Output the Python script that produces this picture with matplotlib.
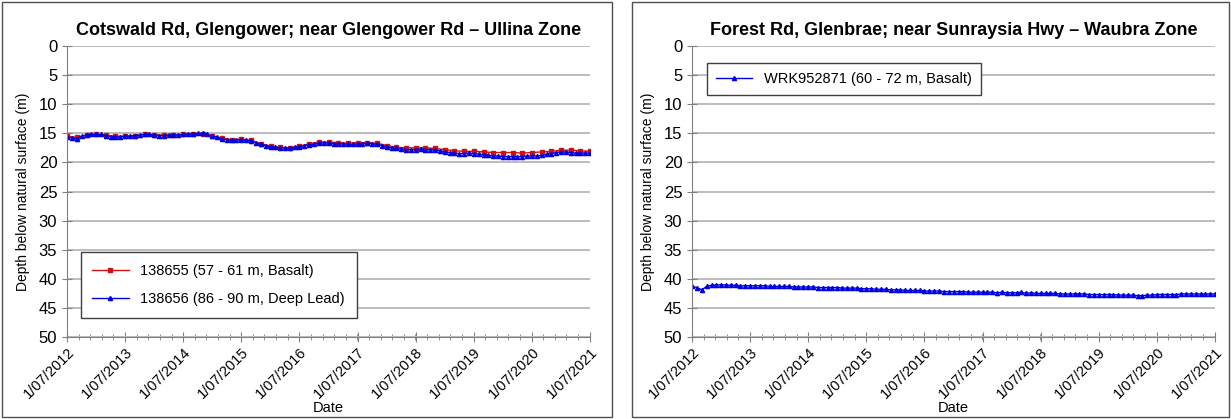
import pandas as pd
import matplotlib.pyplot as plt
import matplotlib.dates as mdates
from matplotlib.ticker import AutoMinorLocator, MultipleLocator
from matplotlib.patches import Rectangle

plt.rcParams['font.family'] = ['Liberation Sans', 'DejaVu Sans']

# Données (profondeur sous la surface, m) - mensuelles de 07/2012 à 07/2021
dates_mensuelles = pd.date_range('2012-07-01', periods=109, freq='MS')
dates_bimensuelles = pd.date_range('2012-07-01', periods=55, freq='2MS')

bore_138656 = [
    15.6, 15.8, 15.9, 15.5, 15.3, 15.2,
    15.2, 15.2, 15.4, 15.6, 15.6, 15.6, 15.5, 15.5, 15.4, 15.3, 15.2, 15.2,
    15.3, 15.4, 15.4, 15.3, 15.3, 15.3, 15.2, 15.1, 15.1, 15.0, 15.0, 15.2,
    15.5, 15.7, 15.9, 16.1, 16.2, 16.1, 16.1, 16.2, 16.3, 16.6, 16.9, 17.1,
    17.3, 17.4, 17.5, 17.5, 17.6, 17.4, 17.3, 17.1, 17.0, 16.9, 16.7, 16.6,
    16.7, 16.8, 16.8, 16.8, 16.9, 16.9, 16.8, 16.8, 16.7, 16.8, 16.9, 17.1,
    17.3, 17.5, 17.6, 17.7, 17.8, 17.8, 17.8, 17.7, 17.8, 17.8, 17.9, 18.0,
    18.2, 18.3, 18.4, 18.5, 18.5, 18.4, 18.5, 18.6, 18.7, 18.8, 18.9, 18.9,
    19.0, 19.0, 19.0, 19.0, 19.0, 18.9, 18.9, 18.9, 18.8, 18.6, 18.5, 18.3,
    18.2, 18.2, 18.3, 18.4, 18.4, 18.4, 18.4,
]

bore_138655 = [
    15.5, 15.7, 15.3,
    15.2, 15.3, 15.5, 15.5, 15.4, 15.2,
    15.3, 15.3, 15.3, 15.2, 15.1, 15.1,
    15.5, 15.8, 16.1, 16.0, 16.2, 16.8,
    17.2, 17.4, 17.5, 17.2, 16.8, 16.5,
    16.5, 16.6, 16.7, 16.6, 16.6, 16.7,
    17.1, 17.4, 17.5, 17.5, 17.5, 17.6,
    17.8, 18.0, 18.1, 18.1, 18.2, 18.3,
    18.3, 18.3, 18.4, 18.3, 18.2, 18.1,
    17.9, 17.9, 18.0, 18.1,
]

bore_wrk952871 = [
    41.3, 41.5, 41.9, 41.3, 41.1, 41.1,
    41.0, 41.1, 41.1, 41.1, 41.2, 41.2, 41.2, 41.2, 41.2, 41.2, 41.3, 41.3,
    41.3, 41.3, 41.3, 41.4, 41.4, 41.4, 41.4, 41.4, 41.5, 41.5, 41.5, 41.5,
    41.5, 41.6, 41.6, 41.6, 41.6, 41.7, 41.7, 41.7, 41.8, 41.8, 41.8, 41.9,
    41.9, 41.9, 42.0, 42.0, 42.0, 42.0, 42.1, 42.1, 42.1, 42.1, 42.2, 42.2,
    42.2, 42.2, 42.2, 42.3, 42.3, 42.3, 42.3, 42.3, 42.3, 42.4, 42.3, 42.4,
    42.4, 42.4, 42.3, 42.5, 42.4, 42.5, 42.5, 42.5, 42.5, 42.5, 42.6, 42.6,
    42.6, 42.6, 42.6, 42.6, 42.7, 42.7, 42.7, 42.7, 42.7, 42.7, 42.8, 42.8,
    42.8, 42.8, 42.9, 42.9, 42.8, 42.8, 42.7, 42.7, 42.7, 42.7, 42.7, 42.6,
    42.6, 42.6, 42.6, 42.6, 42.6, 42.6, 42.6,
]

titres = ['Cotswald Rd, Glengower; near Glengower Rd \u2013 Ullina Zone',
          'Forest Rd, Glenbrae; near Sunraysia Hwy \u2013 Waubra Zone']

W, H = 1231, 419
fig = plt.figure(figsize=(W / 100, H / 100), dpi=100)

# cadres des deux panneaux
for x0, x1 in [(2, 612), (632, 1229)]:
    fig.patches.append(Rectangle((x0 / W, 2 / H), (x1 - x0) / W, (H - 4) / H,
                                 transform=fig.transFigure, fill=False,
                                 edgecolor='#505050', lw=1))

ax1 = fig.add_axes([67 / W, 1 - 337 / H, (590 - 67) / W, (337 - 46) / H])
ax2 = fig.add_axes([692 / W, 1 - 337 / H, (1215 - 692) / W, (337 - 46) / H])

ax1.plot(dates_bimensuelles, bore_138655, color='#d01010', marker='s', ms=2.5,
         lw=1, label='138655 (57 - 61 m, Basalt)')
ax1.plot(dates_mensuelles, bore_138656, color='#0000e0', marker='^', ms=3,
         lw=1, label='138656 (86 - 90 m, Deep Lead)')
ax2.plot(dates_mensuelles, bore_wrk952871, color='#0000e0', marker='^', ms=3,
         lw=1, label='WRK952871 (60 - 72 m, Basalt)')


def fmt_date(x, pos=None):
    d = mdates.num2date(x)
    return f'{d.day}/{d.month:02d}/{d.year}'


for ax, titre in zip([ax1, ax2], titres):
    ax.set_xlim(pd.Timestamp('2012-07-01'), pd.Timestamp('2021-07-01'))
    ax.set_ylim(50, 0)
    ax.yaxis.set_major_locator(MultipleLocator(5))
    ax.xaxis.set_major_locator(mdates.MonthLocator(bymonth=7, bymonthday=1))
    ax.xaxis.set_major_formatter(plt.FuncFormatter(fmt_date))
    ax.xaxis.set_minor_locator(AutoMinorLocator(5))
    ax.grid(axis='y', color='#b8b8b8', lw=1.3)
    ax.set_axisbelow(True)
    for s in ['top', 'right']:
        ax.spines[s].set_visible(False)
    for s in ['left', 'bottom']:
        ax.spines[s].set_color('#808080')
    ax.tick_params(axis='both', which='major', direction='inout', length=7,
                   color='#808080', labelsize=12)
    ax.tick_params(axis='x', which='major', labelsize=10.5, pad=2)
    ax.tick_params(axis='x', which='minor', direction='inout', length=4,
                   color='#808080')
    for lab in ax.get_xticklabels():
        lab.set_rotation(45)
        lab.set_ha('right')
        lab.set_rotation_mode('anchor')
    ax.set_xlabel('Date', fontsize=10.5, labelpad=0)
    ax.set_ylabel('Depth below natural surface (m)', fontsize=10, labelpad=6)
    ax.set_title(titre, fontsize=13, fontweight='bold', pad=8)

ax1.legend(loc='lower left', bbox_to_anchor=(0.012, 0.04), fontsize=10.5,
           fancybox=False, edgecolor='#404040', framealpha=1,
           handlelength=2.5, borderpad=0.8, labelspacing=1.0)
ax2.legend(loc='upper left', bbox_to_anchor=(0.015, 0.965), fontsize=10.5,
           fancybox=False, edgecolor='#404040', framealpha=1,
           handlelength=2.5, borderpad=0.6)

plt.savefig('out.png', dpi=100)
